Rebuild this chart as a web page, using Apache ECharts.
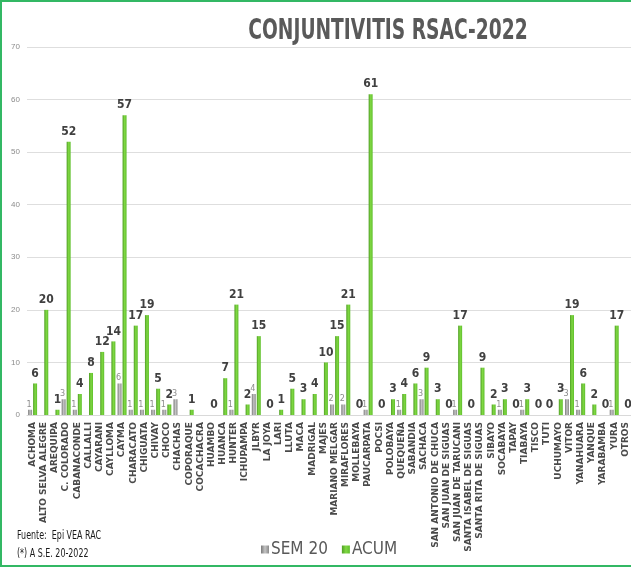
<!DOCTYPE html>
<html>
<head>
<meta charset="utf-8">
<script src="https://cdn.jsdelivr.net/npm/echarts@6/dist/echarts.min.js"></script>
<style>
  html, body { margin: 0; padding: 0; background: #fff; }
  #chart { width: 631px; height: 568px; }
</style>
</head>
<body>
<div id="chart"></div>
<script>
// distritos
const categories = [
    'ACHOMA', 'ALTO SELVA ALEGRE', 'AREQUIPA', 'C. COLORADO', 'CABANACONDE', 'CALLALLI',
    'CAYARANI', 'CAYLLOMA', 'CAYMA', 'CHARACATO', 'CHIGUATA', 'CHIVAY', 'CHOCO', 'CHACHAS',
    'COPORAQUE', 'COCACHACRA', 'HUAMBO', 'HUANCA', 'HUNTER', 'ICHUPAMPA', 'JLBYR', 'LA JOYA',
    'LARI', 'LLUTA', 'MACA', 'MADRIGAL', 'MAJES', 'MARIANO MELGAR', 'MIRAFLORES', 'MOLLEBAYA',
    'PAUCARPATA', 'POCSI', 'POLOBAYA', 'QUEQUEÑA', 'SABANDIA', 'SACHACA', 'SAN ANTONIO DE CHUCA',
    'SAN JUAN DE SIGUAS', 'SAN JUAN DE TARUCANI', 'SANTA ISABEL DE SIGUAS', 'SANTA RITA DE SIGUAS',
    'SIBAYO', 'SOCABAYA', 'TAPAY', 'TIABAYA', 'TISCO', 'TUTI', 'UCHUMAYO', 'VITOR', 'YANAHUARA',
    'YANQUE', 'YARABAMBA', 'YURA', 'OTROS'
];

// casos de la semana 20 ('-' = sin dato)
const sem20 = [
    1, '-', '-', 3, 1, '-', '-', '-', 6, 1, 1, 1, 1, 3,
    '-', '-', '-', '-', 1, '-', 4, '-', '-', '-', '-', '-', '-', 2, 2, '-',
    1, '-', '-', 1, '-', 3, '-', '-', 1, '-', '-',
    '-', 1, '-', 1, '-', '-', '-', 3, 1, '-', '-', 1, '-'
];

// acumulado a la S.E. 20
const acum = [
    6, 20, 1, 52, 4, 8, 12, 14, 57, 17, 19, 5, 2, '-',
    1, '-', 0, 7, 21, 2, 15, 0, 1, 5, 3, 4, 10, 15, 21, 0,
    61, 0, 3, 4, 6, 9, 3, 0, 17, 0, 9,
    2, 3, 0, 3, 0, 0, 3, 19, 6, 2, 0, 17, 0
];

const yTicks = [0, 10, 20, 30, 40, 50, 60, 70];

const narrow = '"Liberation Sans Narrow", "DejaVu Sans Condensed", "Liberation Sans", sans-serif';

function grad(c1, c2, c3) {
    return new echarts.graphic.LinearGradient(0, 0, 1, 0, [
        { offset: 0, color: c1 },
        { offset: 0.5, color: c2 },
        { offset: 1, color: c3 }
    ]);
}

const chart = echarts.init(document.getElementById('chart'));

chart.setOption({
    animation: false,
    backgroundColor: '#ffffff',
    grid: { left: 27, right: -5, top: 47, bottom: 153 },
    legend: {
        left: 256,
        top: 536,
        itemWidth: 8,
        itemHeight: 8,
        itemGap: 14,
        icon: 'rect',
        textStyle: { fontFamily: narrow, fontSize: 17, color: '#595959', padding: [0, 0, 0, -3] },
        data: ['SEM 20', 'ACUM']
    },
    xAxis: {
        type: 'category',
        data: categories,
        axisLine: { lineStyle: { color: '#d9d9d9' } },
        axisTick: { show: false },
        axisLabel: {
            interval: 0,
            rotate: 90,
            margin: 7,
            fontFamily: 'DejaVu Sans',
            fontSize: 9,
            fontWeight: 'bold',
            color: '#4a4a4a'
        }
    },
    yAxis: {
        type: 'value',
        min: yTicks[0],
        max: yTicks[yTicks.length - 1],
        interval: 10,
        axisLine: { show: false },
        axisTick: { show: false },
        axisLabel: { fontSize: 8, color: '#8c8c8c', margin: 7, fontFamily: 'Liberation Sans' },
        splitLine: { lineStyle: { color: '#dedede' } }
    },
    series: [
        {
            name: 'SEM 20',
            type: 'bar',
            data: sem20,
            barWidth: 4,
            barGap: '25%',
            itemStyle: { color: grad('#7a7a7a', '#c4c4c4', '#8a8a8a') },
            label: {
                show: true,
                position: 'top',
                distance: 1,
                offset: [-1, 0],
                fontSize: 9,
                fontFamily: 'DejaVu Sans Condensed, DejaVu Sans',
                color: '#8c8c8c'
            }
        },
        {
            name: 'ACUM',
            type: 'bar',
            data: acum,
            barWidth: 4,
            itemStyle: { color: grad('#4f9e24', '#80d843', '#5fbf2c') },
            label: {
                show: true,
                position: 'top',
                distance: 4,
                fontSize: 12,
                fontWeight: 'bold',
                fontFamily: 'DejaVu Sans Condensed, DejaVu Sans',
                color: '#404040'
            }
        }
    ],
    graphic: [
        {
            type: 'rect',
            shape: { x: 1, y: 1, width: 660, height: 565 },
            style: { fill: 'none', stroke: '#33b864', lineWidth: 2 },
            silent: true
        },
        {
            type: 'text',
            x: 388,
            y: 18,
            scaleX: 0.74,
            style: {
                text: 'CONJUNTIVITIS RSAC-2022',
                font: 'bold 28px ' + narrow,
                fill: '#595959',
                textAlign: 'center'
            }
        },
        {
            type: 'text',
            x: 17,
            y: 529,
            scaleX: 0.68,
            style: { text: 'Fuente:  Epi VEA RAC', font: '13px ' + narrow, fill: '#1a1a1a' }
        },
        {
            type: 'text',
            x: 17,
            y: 547,
            scaleX: 0.68,
            style: { text: '(*) A S.E. 20-2022', font: '13px ' + narrow, fill: '#1a1a1a' }
        }
    ]
});
</script>
</body>
</html>
